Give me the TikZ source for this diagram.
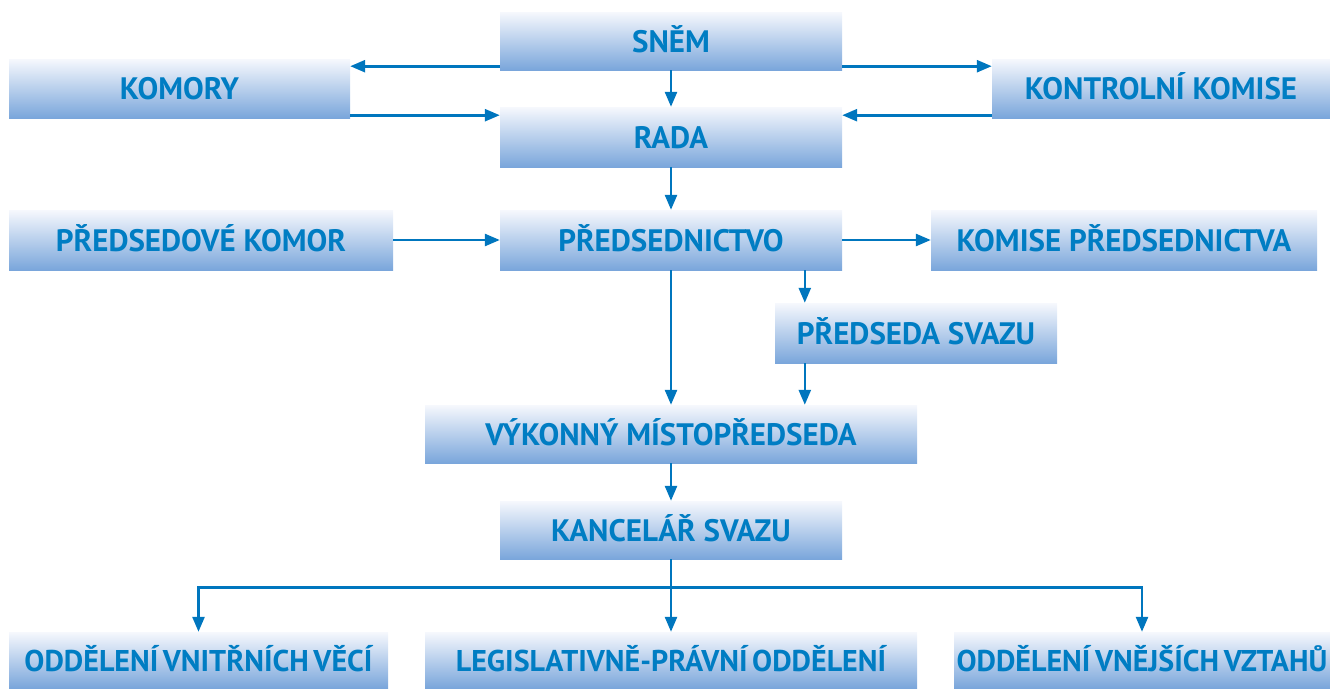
\documentclass[tikz,border=0pt]{standalone}
\usepackage{fontspec}
\setmainfont{PT Sans}
\newfontfamily\tightsp{PT Sans}[WordSpace=0.6]
\usetikzlibrary{arrows.meta,calc}
\definecolor{txtblue}{RGB}{0,125,195}
\definecolor{lineblue}{RGB}{0,118,190}
\definecolor{boxtop}{RGB}{246,248,253}
\definecolor{boxbot}{RGB}{122,166,219}
\tikzset{
  box/.style={rectangle, inner sep=0pt, top color=boxtop, bottom color=boxbot, draw=none,
    text=txtblue, text height=22pt, text depth=0pt, font=\fontsize{31}{34}\selectfont\bfseries},
  lowbox/.style={box, font=\tightsp\fontsize{30}{34}\selectfont\bfseries},
  arr/.style={draw=lineblue, line width=2.6pt, -{Triangle[length=15pt,width=12pt]}}
}
\begin{document}
\begin{tikzpicture}[x=1pt,y=-1pt]
\useasboundingbox (0,0) rectangle (1330,688);
\node[box, minimum width=342pt, minimum height=58pt] (snem) at (671,41) {SNĚM};
\node[box, minimum width=342pt, minimum height=60pt] (rada) at (671,137) {RADA};
\node[box, minimum width=341pt, minimum height=59pt] (komory) at (179.5,88.5) {KOMORY};
\node[box, minimum width=338pt, minimum height=59pt] (kontrol) at (1161,88.5) {KONTROLNÍ KOMISE};
\node[box, minimum width=384pt, minimum height=60pt] (predsedove) at (201,240) {PŘEDSEDOVÉ KOMOR};
\node[box, minimum width=342pt, minimum height=60pt] (predsednictvo) at (671,240) {PŘEDSEDNICTVO};
\node[box, minimum width=386pt, minimum height=60pt] (komise) at (1124,240) {KOMISE PŘEDSEDNICTVA};
\node[box, minimum width=282pt, minimum height=60pt] (predseda) at (916,333) {PŘEDSEDA SVAZU};
\node[box, minimum width=492pt, minimum height=58pt] (vykonny) at (671,434) {VÝKONNÝ MÍSTOPŘEDSEDA};
\node[box, minimum width=342pt, minimum height=58pt] (kancelar) at (671,530) {KANCELÁŘ SVAZU};
\node[lowbox, minimum width=379pt, minimum height=56pt] (vnitrni) at (198.5,660) {ODDĚLENÍ VNITŘNÍCH VĚCÍ};
\node[lowbox, minimum width=492pt, minimum height=56pt] (legis) at (671,660) {LEGISLATIVNĚ-PRÁVNÍ ODDĚLENÍ};
\node[lowbox, minimum width=376pt, minimum height=56pt] (vnejsi) at (1142,660) {ODDĚLENÍ VNĚJŠÍCH VZTAHŮ};

\coordinate (s1) at ([yshift=4pt]snem.south west);
\coordinate (s2) at ([yshift=4pt]snem.south east);
\coordinate (k1) at ([yshift=3pt]komory.south east);
\coordinate (k2) at ([yshift=3pt]kontrol.south west);
\coordinate (p1) at ([xshift=30pt]predseda.north west);
\coordinate (fan) at ([yshift=-28pt]kancelar.south);

\draw[arr] (s1) -- (s1 -| komory.east);
\draw[arr] (s2) -- (s2 -| kontrol.west);
\draw[arr] (snem) -- (rada);
\draw[arr] (k1) -- (k1 -| rada.west);
\draw[arr] (k2) -- (k2 -| rada.east);
\draw[arr] (rada) -- (predsednictvo);
\draw[arr] (predsedove) -- (predsednictvo);
\draw[arr] (predsednictvo) -- (komise);
\draw[arr] (p1 |- predsednictvo.south) -- (p1);
\draw[arr] (predsednictvo) -- (vykonny);
\draw[arr] (p1 |- predseda.south) -- (p1 |- vykonny.north);
\draw[arr] (vykonny) -- (kancelar);
\draw[arr] (kancelar) -- (legis);
\draw[arr] (fan) -| (vnitrni.north);
\draw[arr] (fan) -| (vnejsi.north);
\end{tikzpicture}
\end{document}
